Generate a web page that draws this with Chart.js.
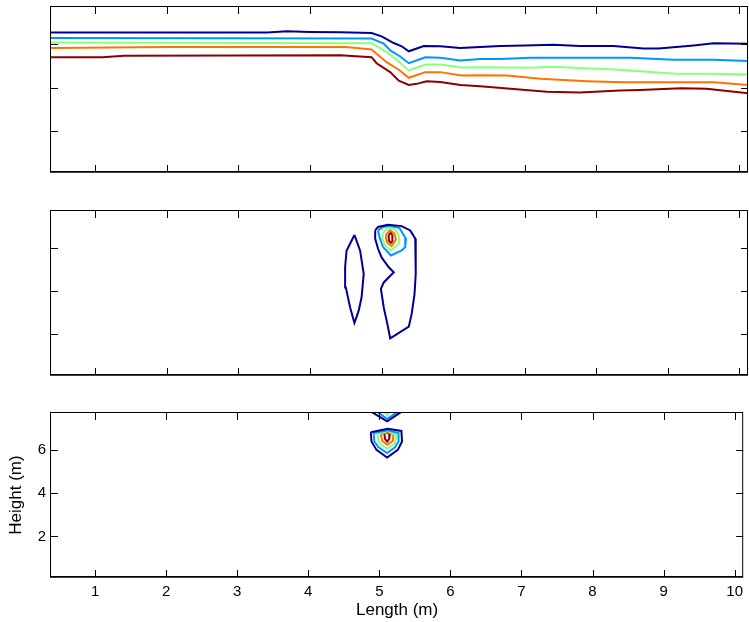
<!DOCTYPE html>
<html>
<head>
<meta charset="utf-8">
<title>Contours</title>
<script src="https://cdn.jsdelivr.net/npm/chart.js@4.4.1/dist/chart.umd.min.js"></script>
<style>
    html, body { margin: 0; padding: 0; background: #fff; }
    #wrap { position: relative; width: 749px; height: 622px; }
    #wrap canvas { position: absolute; left: 0; top: 0; }
</style>
</head>
<body>
<div id="wrap">
    <canvas id="panelTop" width="749" height="622"></canvas>
    <canvas id="panelMid" width="749" height="622"></canvas>
    <canvas id="panelBot" width="749" height="622"></canvas>
</div>
<script>
// axis limits and ticks (same for all three panels)
const xRange = [0.38, 10.12];
const yRange = [0.12, 7.72];
const xTickValues = [1, 2, 3, 4, 5, 6, 7, 8, 9, 10];
const yTickValues = [2, 4, 6];

// contour level colours, lowest level first
const levelColors = ['#000090', '#0096ff', '#8cff78', '#ff7300', '#8c0000'];

// top panel: five contour lines across the whole length
const topLevel1 = [[0.38,6.55],[3.4,6.55],[3.68,6.6],[4.0,6.57],[4.42,6.56],[4.86,6.52],[5.0,6.37],[5.17,6.06],[5.28,5.91],[5.38,5.68],[5.59,5.92],[5.82,5.91],[6.1,5.83],[6.38,5.88],[6.66,5.92],[7.0,5.95],[7.4,5.98],[7.77,5.92],[8.24,5.92],[8.66,5.81],[8.87,5.81],[9.36,5.95],[9.64,6.05],[10.12,6.03]];
const topLevel2 = [[0.38,6.29],[4.86,6.27],[5.03,6.03],[5.12,5.72],[5.26,5.44],[5.38,5.13],[5.61,5.4],[5.82,5.38],[6.1,5.26],[6.38,5.32],[6.66,5.33],[7.08,5.38],[8.47,5.38],[9.08,5.29],[9.64,5.29],[10.12,5.23]];
const topLevel3 = [[0.38,6.08],[4.86,6.05],[5.07,5.64],[5.21,5.29],[5.38,4.8],[5.61,5.07],[5.82,5.07],[6.12,4.93],[6.38,4.95],[7.08,4.92],[7.36,4.97],[7.77,4.91],[8.33,4.83],[8.61,4.76],[9.12,4.64],[9.64,4.64],[10.12,4.61]];
const topLevel4 = [[0.38,5.83],[2.0,5.88],[4.5,5.88],[4.86,5.76],[4.93,5.57],[5.07,5.18],[5.24,4.83],[5.38,4.46],[5.61,4.72],[5.82,4.72],[6.12,4.56],[6.38,4.58],[6.75,4.56],[7.22,4.41],[7.87,4.3],[8.38,4.25],[9.64,4.25],[10.12,4.13]];
const topLevel5 = [[0.38,5.41],[1.1,5.41],[1.4,5.48],[4.42,5.5],[4.86,5.41],[4.93,5.13],[5.12,4.72],[5.24,4.33],[5.38,4.13],[5.49,4.18],[5.63,4.3],[5.82,4.26],[6.1,4.13],[6.38,4.07],[6.8,3.95],[7.31,3.82],[7.77,3.78],[8.33,3.87],[8.61,3.9],[9.19,3.98],[9.54,3.95],[10.12,3.75]];

// middle panel: closed contours
const midLevel1Left = [[4.62,6.61],[4.7,5.88],[4.75,4.8],[4.72,3.72],[4.68,3.1],[4.62,2.53],[4.56,3.25],[4.5,4.18],[4.49,5.11],[4.51,5.88],[4.62,6.61]];
const midLevel1Right = [[4.91,6.82],[4.95,6.98],[5.09,7.08],[5.28,7.02],[5.4,6.82],[5.47,6.44],[5.48,6.0],[5.47,5.26],[5.48,4.8],[5.46,3.87],[5.42,2.95],[5.38,2.36],[5.12,1.82],[5.08,2.49],[5.03,3.25],[4.99,4.11],[5.03,4.41],[5.17,4.88],[5.1,5.11],[5.0,5.57],[4.95,5.97],[4.91,6.44],[4.91,6.82]];
const midLevel2 = [[4.95,6.82],[5.02,6.98],[5.13,7.02],[5.25,6.93],[5.34,6.44],[5.33,6.05],[5.28,5.89],[5.13,5.66],[5.02,6.05],[4.97,6.51],[4.95,6.82]];
const midLevel3 = [[5.01,6.67],[5.07,6.87],[5.16,6.93],[5.23,6.67],[5.25,6.36],[5.23,6.16],[5.13,5.89],[5.05,6.13],[5.01,6.44],[5.01,6.67]];
const midLevel4 = [[5.06,6.62],[5.12,6.82],[5.18,6.67],[5.2,6.4],[5.14,6.1],[5.08,6.25],[5.06,6.44],[5.06,6.62]];
const midLevel5 = [[5.1,6.62],[5.13,6.71],[5.15,6.59],[5.15,6.31],[5.13,6.25],[5.1,6.36],[5.1,6.62]];

// bottom panel: pieces cut by the top edge, and a closed set below
const botLevel1Upper = [[4.9,7.75],[5.11,7.33],[5.3,7.75]];
const botLevel2Upper = [[4.98,7.75],[5.11,7.45],[5.25,7.75]];
const botLevel3Upper = [[5.07,7.75],[5.11,7.62],[5.15,7.75]];
const botLevel1 = [[4.88,6.83],[5.12,6.99],[5.31,6.89],[5.32,6.4],[5.26,6.01],[5.11,5.66],[4.96,6.01],[4.89,6.4],[4.88,6.83]];
const botLevel2 = [[4.92,6.79],[5.12,6.92],[5.27,6.79],[5.27,6.4],[5.22,6.13],[5.11,5.86],[4.99,6.13],[4.93,6.4],[4.92,6.79]];
const botLevel3 = [[4.97,6.74],[5.12,6.88],[5.24,6.71],[5.22,6.32],[5.11,6.06],[5.0,6.32],[4.97,6.74]];
const botLevel4 = [[5.02,6.74],[5.12,6.83],[5.2,6.74],[5.19,6.43],[5.11,6.25],[5.04,6.43],[5.02,6.74]];
const botLevel5 = [[5.07,6.79],[5.15,6.79],[5.14,6.52],[5.11,6.39],[5.08,6.52],[5.07,6.79]];

Chart.defaults.font.family = '"Liberation Sans", Arial, Helvetica, sans-serif';
Chart.defaults.color = '#000';

function contour(points, level) {
    return {
        data: points.map(p => ({ x: p[0], y: p[1] })),
        borderColor: levelColors[level - 1],
        borderWidth: 2,
        showLine: true,
        pointRadius: 0,
        pointHoverRadius: 0,
        fill: false,
        tension: 0
    };
}

// box with inward ticks on all four sides, like a matlab axes
const boxPlugin = {
    id: 'boxPlugin',
    afterDraw(chart) {
        const ctx = chart.ctx;
        const a = chart.chartArea;
        const xs = chart.scales.x;
        const ys = chart.scales.y;
        const len = 7;
        ctx.save();
        ctx.strokeStyle = '#000';
        ctx.lineWidth = 1;
        ctx.beginPath();
        xTickValues.forEach(v => {
            const px = Math.round(xs.getPixelForValue(v)) + 0.5;
            ctx.moveTo(px, a.bottom);
            ctx.lineTo(px, a.bottom - len);
            ctx.moveTo(px, a.top);
            ctx.lineTo(px, a.top + len);
        });
        yTickValues.forEach(v => {
            const py = Math.round(ys.getPixelForValue(v)) + 0.5;
            ctx.moveTo(a.left, py);
            ctx.lineTo(a.left + len, py);
            ctx.moveTo(a.right, py);
            ctx.lineTo(a.right - len, py);
        });
        ctx.stroke();
        ctx.strokeRect(a.left - 0.5, a.top - 0.5, a.right - a.left, a.bottom - a.top);
        ctx.lineWidth = 1.5;
        ctx.beginPath();
        ctx.moveTo(a.left - 1, a.bottom);
        ctx.lineTo(a.right, a.bottom);
        ctx.stroke();
        ctx.restore();
    }
};

function makePanel(id, top, bottom, datasets, withLabels) {
    const xScale = {
        type: 'linear',
        min: xRange[0],
        max: xRange[1],
        display: withLabels
    };
    const yScale = {
        type: 'linear',
        min: yRange[0],
        max: yRange[1],
        display: withLabels
    };
    if (withLabels) {
        Object.assign(xScale, {
            grid: { display: false, drawTicks: false },
            border: { display: false },
            ticks: { font: { size: 15 }, padding: 6, maxRotation: 0, autoSkip: false },
            title: { display: true, text: 'Length (m)', font: { size: 17 }, padding: { top: 0, bottom: 1 } },
            afterBuildTicks: s => { s.ticks = xTickValues.map(v => ({ value: v })); },
            afterFit: s => { s.height = 622 - bottom; }
        });
        Object.assign(yScale, {
            grid: { display: false, drawTicks: false },
            border: { display: false },
            ticks: { font: { size: 15 }, padding: 5 },
            title: { display: true, text: 'Height (m)', font: { size: 17 }, padding: { top: 6, bottom: 0 } },
            afterBuildTicks: s => { s.ticks = yTickValues.map(v => ({ value: v })); },
            afterFit: s => { s.width = 51; }
        });
    }
    return new Chart(document.getElementById(id), {
        type: 'scatter',
        data: { datasets: datasets },
        options: {
            responsive: false,
            devicePixelRatio: 1,
            animation: false,
            layout: {
                padding: withLabels
                    ? { top: top, bottom: 0, left: 0, right: 1 }
                    : { top: top, bottom: 622 - bottom, left: 51, right: 1 }
            },
            plugins: { legend: { display: false }, tooltip: { enabled: false } },
            scales: { x: xScale, y: yScale }
        },
        plugins: [boxPlugin]
    });
}

makePanel('panelTop', 7, 172, [
    contour(topLevel1, 1),
    contour(topLevel2, 2),
    contour(topLevel3, 3),
    contour(topLevel4, 4),
    contour(topLevel5, 5)
], false);

makePanel('panelMid', 211, 375, [
    contour(midLevel1Left, 1),
    contour(midLevel1Right, 1),
    contour(midLevel2, 2),
    contour(midLevel3, 3),
    contour(midLevel4, 4),
    contour(midLevel5, 5)
], false);

makePanel('panelBot', 413, 577, [
    contour(botLevel1Upper, 1),
    contour(botLevel2Upper, 2),
    contour(botLevel3Upper, 3),
    contour(botLevel1, 1),
    contour(botLevel2, 2),
    contour(botLevel3, 3),
    contour(botLevel4, 4),
    contour(botLevel5, 5)
], true);
</script>
</body>
</html>
